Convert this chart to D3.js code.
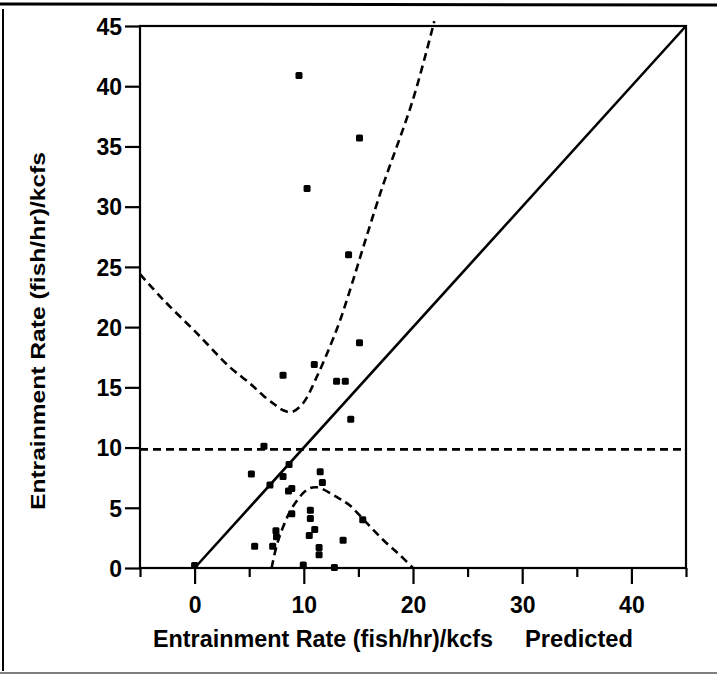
<!DOCTYPE html>
<html>
<head>
<meta charset="utf-8">
<script src="https://cdn.jsdelivr.net/npm/d3@7"></script>
<style>
  body { margin: 0; background: #fff; }
  svg { display: block; font-family: "Liberation Sans", Arial, Helvetica, sans-serif; }
</style>
</head>
<body>
<div id="chart"></div>
<script>
const obsX = [0, 9.95, 12.8, 5.5, 7.15, 7.45, 7.5, 11.4, 11.4, 13.6, 10.5, 11.0, 8.9, 10.6, 10.6, 15.4,
  8.6, 8.9, 6.9, 8.1, 8.65, 5.2, 11.7, 11.5, 6.35, 14.3, 13.0, 13.8, 8.1, 10.96, 15.1, 14.1, 10.3, 15.1, 9.56];
const obsY = [0.2, 0.25, 0.05, 1.8, 1.8, 3.1, 2.6, 1.7, 1.1, 2.3, 2.7, 3.2, 4.5, 4.1, 4.8, 4.0,
  6.4, 6.6, 6.9, 7.6, 8.6, 7.8, 7.1, 8.0, 10.1, 12.35, 15.5, 15.5, 16.0, 16.9, 18.7, 26.0, 31.5, 35.7, 40.9];

// upper and lower dashed bands
const upperX = [-5, -2.9, 0.2, 3.2, 5.1, 6.3, 7.3, 8.1, 8.9, 9.95, 11.2, 12.4, 13.3, 14.1, 17.0, 20.0, 21.95];
const upperY = [24.4, 22.3, 19.5, 16.7, 15.3, 14.3, 13.6, 13.1, 12.95, 13.7, 15.9, 18.4, 20.5, 22.7, 31.1, 38.9, 45.4];
const lowerX = [7.05, 7.5, 8.1, 9.0, 10.3, 11.2, 13.0, 14.2, 15.8, 17.3, 18.65, 20.0];
const lowerY = [0, 1.8, 3.4, 5.1, 6.5, 6.7, 5.9, 5.2, 3.7, 2.3, 1.2, 0];

const meanLevel = 9.85;          // horizontal dashed line
const oneToOne = [0, 45];        // solid line y = x

const xMajor = [0, 10, 20, 30, 40];
const xMinor = [-5, 5, 15, 25, 35, 45];
const yTicks = [0, 5, 10, 15, 20, 25, 30, 35, 40, 45];

const xTitle = "Entrainment Rate (fish/hr)/kcfs";
const xTitle2 = "Predicted";
const yTitle = "Entrainment Rate (fish/hr)/kcfs";

const width = 717, height = 675;
const plot = { left: 140, right: 686, top: 26, bottom: 568 };

const svg = d3.select("#chart").append("svg")
  .attr("width", width)
  .attr("height", height);

svg.append("rect").attr("width", width).attr("height", height).attr("fill", "#fff");

// scanned page border
svg.append("path")
  .attr("d", "M0,4 L717,5")
  .attr("stroke", "#000").attr("stroke-width", 3).attr("fill", "none");
svg.append("path")
  .attr("d", "M3,9 L3,671")
  .attr("stroke", "#000").attr("stroke-width", 2).attr("fill", "none");
svg.append("path")
  .attr("d", "M0,673 L717,673")
  .attr("stroke", "#555").attr("stroke-width", 1.5).attr("fill", "none");

const x = d3.scaleLinear().domain([-5, 45]).range([plot.left, plot.right]);
const y = d3.scaleLinear().domain([0, 45]).range([plot.bottom, plot.top]);

// frame
svg.append("rect")
  .attr("x", plot.left).attr("y", plot.top)
  .attr("width", plot.right - plot.left)
  .attr("height", plot.bottom - plot.top)
  .attr("fill", "none").attr("stroke", "#000").attr("stroke-width", 2.2);

// y axis
const yAxis = svg.append("g")
  .attr("transform", `translate(${plot.left},0)`)
  .call(d3.axisLeft(y).tickValues(yTicks).tickSize(15).tickPadding(3));
yAxis.select(".domain").remove();
yAxis.selectAll("line").attr("stroke", "#000").attr("stroke-width", 2.2);
yAxis.selectAll("text")
  .attr("fill", "#000")
  .style("font-size", "23px").style("font-weight", "bold")
  .attr("dy", "0.36em");

// x axis, major and minor
const xAxis = svg.append("g")
  .attr("transform", `translate(0,${plot.bottom})`)
  .call(d3.axisBottom(x).tickValues(xMajor).tickSize(16).tickPadding(13));
xAxis.select(".domain").remove();
xAxis.selectAll("line").attr("stroke", "#000").attr("stroke-width", 2.2);
xAxis.selectAll("text")
  .attr("fill", "#000")
  .style("font-size", "23px").style("font-weight", "bold");

const xAxisMinor = svg.append("g")
  .attr("transform", `translate(0,${plot.bottom})`)
  .call(d3.axisBottom(x).tickValues(xMinor).tickSize(9).tickFormat(""));
xAxisMinor.select(".domain").remove();
xAxisMinor.selectAll("line").attr("stroke", "#000").attr("stroke-width", 2.2);

// 1:1 line
svg.append("line")
  .attr("x1", x(oneToOne[0])).attr("y1", y(oneToOne[0]))
  .attr("x2", x(oneToOne[1])).attr("y2", y(oneToOne[1]))
  .attr("stroke", "#000").attr("stroke-width", 2.6);

// horizontal dashed mean
svg.append("line")
  .attr("x1", x(-5)).attr("x2", x(45))
  .attr("y1", y(meanLevel)).attr("y2", y(meanLevel))
  .attr("stroke", "#000").attr("stroke-width", 2.6)
  .attr("stroke-dasharray", "8,5");

const band = d3.line()
  .x(d => x(d[0]))
  .y(d => y(d[1]))
  .curve(d3.curveCatmullRom.alpha(0.5));

svg.append("path")
  .datum(upperX.map((v, i) => [v, upperY[i]]))
  .attr("d", band)
  .attr("fill", "none").attr("stroke", "#000").attr("stroke-width", 2.6)
  .attr("stroke-dasharray", "8,5");

svg.append("path")
  .datum(lowerX.map((v, i) => [v, lowerY[i]]))
  .attr("d", band)
  .attr("fill", "none").attr("stroke", "#000").attr("stroke-width", 2.6)
  .attr("stroke-dasharray", "8,5");

// observed points
const pts = obsX.map((v, i) => ({ x: v, y: obsY[i] }));
svg.selectAll(".dot")
  .data(pts)
  .enter().append("rect")
  .attr("class", "dot")
  .attr("x", d => x(d.x) - 3.5)
  .attr("y", d => y(d.y) - 3.5)
  .attr("width", 7).attr("height", 7)
  .attr("rx", 1.5)
  .attr("fill", "#000");

// titles
svg.append("text")
  .attr("x", 153).attr("y", 647)
  .attr("textLength", 340).attr("lengthAdjust", "spacingAndGlyphs")
  .style("font-size", "23px").style("font-weight", "bold")
  .text(xTitle);
svg.append("text")
  .attr("x", 525).attr("y", 647)
  .attr("textLength", 108).attr("lengthAdjust", "spacingAndGlyphs")
  .style("font-size", "23px").style("font-weight", "bold")
  .text(xTitle2);

svg.append("text")
  .attr("transform", "translate(45,510) rotate(-90)")
  .attr("textLength", 358).attr("lengthAdjust", "spacingAndGlyphs")
  .style("font-size", "20px").style("font-weight", "bold")
  .text(yTitle);
</script>
</body>
</html>
